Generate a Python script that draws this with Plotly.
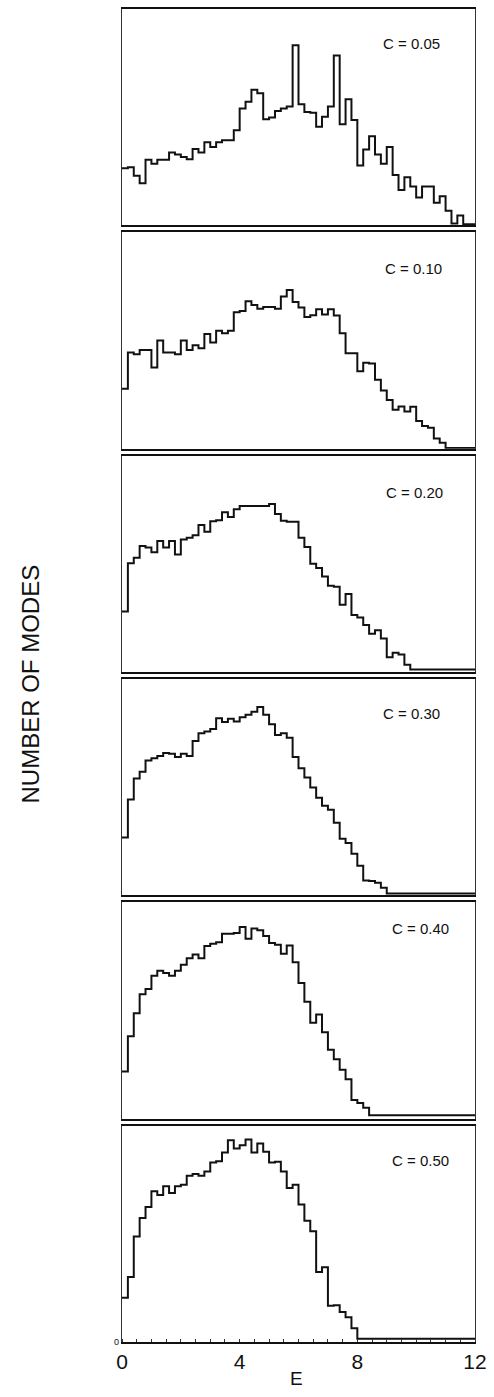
import plotly.graph_objects as go
from plotly.subplots import make_subplots

# ---- data -------------------------------------------------------------
BIN_WIDTH = 0.2           # histogram bin width in E
N_BINS = 60               # bins cover E = 0 .. 12

panel_labels = ["C = 0.05", "C = 0.10", "C = 0.20", "C = 0.30", "C = 0.40", "C = 0.50"]

c005 = [26.4, 26.9, 22.9, 19.4, 30.3, 28.5, 30.3, 30.3, 33.7, 32.7,
        31.6, 30.6, 35.3, 33.7, 38.4, 36.2, 38.4, 39.3, 39.3, 44.0,
        54.0, 57.1, 62.7, 61.1, 49.0, 49.8, 52.9, 54.0, 54.9, 83.2,
        56.0, 52.4, 52.1, 45.6, 50.2, 54.9, 78.5, 46.7, 58.3, 48.7,
        27.7, 35.0, 41.2, 32.7, 28.5, 36.2, 23.3, 16.3, 22.2, 17.9,
        12.9, 17.9, 17.9, 10.4, 13.5, 6.7, 0.8, 4.5, 0.5, 0.5]

c010 = [27.7, 44.4, 43.6, 45.6, 45.6, 37.5, 50.0, 44.4, 44.4, 43.6,
        50.0, 45.6, 47.8, 46.4, 53.0, 49.1, 54.5, 53.4, 54.5, 63.1,
        63.6, 68.1, 66.4, 64.7, 65.5, 65.5, 64.7, 70.3, 73.3, 67.8,
        65.2, 60.9, 61.7, 64.4, 62.0, 64.4, 61.6, 53.4, 44.1, 44.1,
        35.8, 39.7, 39.4, 31.9, 26.9, 22.5, 18.0, 19.5, 17.2, 19.4,
        12.8, 10.5, 9.7, 4.7, 2.7, 0.3, 0.3, 0.3, 0.3, 0.3]

c020 = [28.0, 50.3, 52.8, 58.2, 57.5, 55.4, 60.6, 57.5, 60.6, 54.3,
        61.2, 62.1, 63.2, 67.9, 64.8, 69.7, 70.2, 73.8, 71.7, 75.2,
        76.7, 76.7, 76.7, 76.7, 76.7, 77.6, 73.0, 69.9, 69.4, 69.4,
        62.1, 57.8, 50.0, 48.1, 44.1, 39.9, 39.4, 31.1, 36.0, 26.4,
        25.2, 21.7, 17.7, 19.3, 15.5, 6.8, 8.9, 8.1, 3.4, 1.1,
        1.1, 1.1, 1.1, 1.1, 1.1, 1.1, 1.1, 1.1, 1.1, 1.1]

c030 = [26.7, 44.3, 54.0, 57.1, 62.3, 63.4, 64.4, 65.8, 65.5, 63.9,
        65.5, 64.4, 71.3, 74.9, 75.7, 76.9, 81.9, 80.1, 81.6, 80.4,
        82.3, 83.5, 84.8, 87.0, 83.5, 79.1, 74.1, 74.9, 72.8, 63.9,
        58.7, 54.5, 49.8, 45.1, 41.4, 39.6, 33.6, 26.2, 24.2, 19.2,
        13.7, 6.9, 6.6, 5.8, 3.5, 0.8, 0.8, 0.8, 0.8, 0.8,
        0.8, 0.8, 0.8, 0.8, 0.8, 0.8, 0.8, 0.8, 0.8, 0.8]

c040 = [21.8, 38.1, 48.7, 57.5, 59.9, 66.1, 68.4, 67.3, 66.1, 68.4,
        71.1, 74.2, 75.9, 74.2, 79.8, 80.9, 81.6, 85.5, 85.5, 85.8,
        88.6, 83.2, 87.9, 87.1, 84.4, 81.2, 80.4, 76.2, 80.1, 72.3,
        62.7, 54.0, 44.3, 48.2, 40.0, 31.9, 27.5, 22.6, 18.2, 8.6,
        7.3, 5.1, 1.6, 1.6, 1.6, 1.6, 1.6, 1.6, 1.6, 1.6,
        1.6, 1.6, 1.6, 1.6, 1.6, 1.6, 1.6, 1.6, 1.6, 1.6]

c050 = [20.5, 30.0, 48.8, 57.3, 62.4, 69.7, 67.9, 72.0, 68.9, 72.0,
        72.7, 76.8, 77.6, 76.8, 78.8, 83.0, 83.6, 87.6, 93.2, 89.4,
        90.9, 93.6, 87.6, 91.7, 87.9, 83.0, 83.3, 78.8, 71.2, 72.7,
        63.6, 56.1, 51.2, 32.3, 34.5, 16.7, 17.0, 13.9, 11.4, 6.4,
        1.5, 1.5, 1.5, 1.5, 1.5, 1.5, 1.5, 1.5, 1.5, 1.5,
        1.5, 1.5, 1.5, 1.5, 1.5, 1.5, 1.5, 1.5, 1.5, 1.5]

series = [c005, c010, c020, c030, c040, c050]

x_tickvals = [0, 4, 8, 12]
x_ticktext = ["0", "4", "8", "12"]

# ---- figure -----------------------------------------------------------
W, H = 494, 1397
ML, MR, MT, MB = 122, 17, 7, 55
plot_h = H - MT - MB
gap_px = 7

fig = make_subplots(rows=6, cols=1, shared_xaxes=False,
                    vertical_spacing=gap_px / plot_h)

edges = [i * BIN_WIDTH for i in range(N_BINS + 1)]

label_ypos = [0.84, 0.835, 0.83, 0.84, 0.88, 0.84]
label_xpos = [0.82, 0.825, 0.83, 0.82, 0.845, 0.845]

FONT = "Liberation Sans, Arial, sans-serif"

for i, vals in enumerate(series):
    r = i + 1
    yv = list(vals) + [vals[-1]]
    fig.add_trace(go.Scatter(x=edges, y=yv, mode="lines", line_shape="hv",
                             line=dict(color="#111111", width=2),
                             showlegend=False, hoverinfo="skip"),
                  row=r, col=1)
    last = (r == 6)
    fig.update_xaxes(range=[0, 12], showgrid=False, zeroline=False,
                     showline=True, mirror=True, linecolor="#111111", linewidth=2,
                     tickvals=x_tickvals, ticktext=x_ticktext if last else None,
                     showticklabels=last, ticks="",
                     tickfont=dict(family=FONT, size=21, color="#111111"),
                     row=r, col=1)
    fig.update_yaxes(range=[0, 100], showgrid=False, zeroline=False,
                     showline=True, mirror=True, linecolor="#333333", linewidth=1.3,
                     tickvals=[0] if last else [], ticktext=["0"] if last else [],
                     showticklabels=last, ticks="",
                     tickfont=dict(family=FONT, size=9, color="#111111"),
                     row=r, col=1)
    xd = "x domain" if r == 1 else f"x{r} domain"
    yd = "y domain" if r == 1 else f"y{r} domain"
    fig.add_annotation(text=panel_labels[i], xref=xd, yref=yd,
                       x=label_xpos[i], y=label_ypos[i], showarrow=False,
                       xanchor="center", yanchor="middle",
                       font=dict(family=FONT, size=15, color="#111111"))

fig.update_xaxes(minor=dict(ticks="inside", dtick=0.5, ticklen=3, tickcolor="#333333"),
                 row=6, col=1)

fig.add_annotation(text="E", xref="paper", yref="paper", x=0.495,
                   y=-(1379 - (H - MB)) / plot_h, showarrow=False,
                   xanchor="center", yanchor="middle",
                   font=dict(family=FONT, size=19, color="#111111"))
fig.add_annotation(text="NUMBER OF MODES", xref="paper", yref="paper",
                   x=(30 - ML) / (W - ML - MR), y=((H - MB) - 683) / plot_h,
                   textangle=-90, showarrow=False,
                   xanchor="center", yanchor="middle",
                   font=dict(family=FONT, size=24, color="#111111"))

fig.update_layout(width=W, height=H, margin=dict(l=ML, r=MR, t=MT, b=MB),
                  paper_bgcolor="white", plot_bgcolor="white",
                  font=dict(family=FONT, color="#111111"))

fig.write_html("out.html",
               config={"displayModeBar": False, "staticPlot": True},
               post_script="document.body.style.margin='0';"
                           "document.body.style.overflow='hidden';")
